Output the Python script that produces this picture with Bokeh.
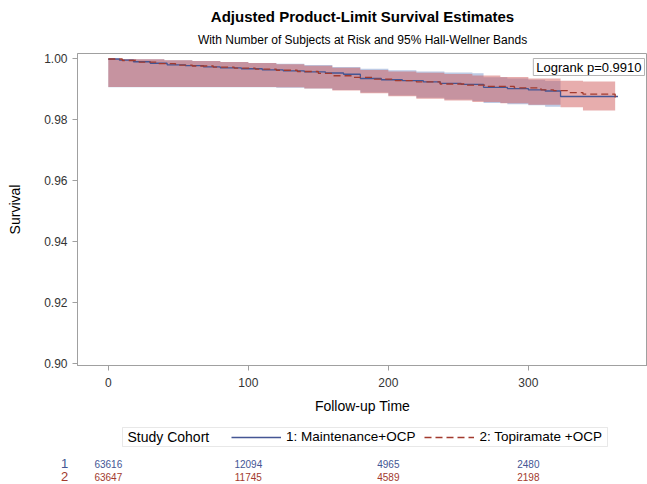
from bokeh.plotting import figure
from bokeh.models import Range1d, Title, Label, Legend, LegendItem, FixedTicker, PrintfTickFormatter, BoxAnnotation
from bokeh.core.properties import value
from bokeh.embed import file_html
from bokeh.resources import INLINE

# ---------------- data ----------------
# group 1: Maintenance+OCP (step survival curve)
t1 = [0, 8, 18, 30, 42, 55, 68, 80, 95, 110, 125, 140, 155, 168, 180, 195, 210, 225, 237, 252, 268, 285, 300, 312, 323, 364]
s1 = [1.0000, 0.9996, 0.9991, 0.9986, 0.9981, 0.9978, 0.9974, 0.9971, 0.9968, 0.9964, 0.9961, 0.9958, 0.9954,
      0.9950, 0.9936, 0.9932, 0.9929, 0.9925, 0.9920, 0.9917, 0.9907, 0.9903, 0.9899, 0.9895, 0.9877, 0.9877]
# group 2: Topiramate +OCP
t2 = [0, 10, 22, 35, 48, 60, 75, 90, 105, 120, 135, 150, 160, 175, 190, 205, 220, 237, 255, 270, 290, 309, 318, 328, 339, 362]
s2 = [1.0000, 0.9995, 0.9990, 0.9985, 0.9980, 0.9977, 0.9973, 0.9970, 0.9967, 0.9963, 0.9959, 0.9953, 0.9945,
      0.9940, 0.9934, 0.9929, 0.9925, 0.9918, 0.9914, 0.9910, 0.9905, 0.9899, 0.9896, 0.9890, 0.9885, 0.9874]

# 95% Hall-Wellner bands
bt1 = [0, 20, 40, 60, 80, 100, 120, 140, 160, 180, 200, 220, 240, 260, 268, 285, 300, 312, 323]
blo1 = [0.9907, 0.9907, 0.9907, 0.9907, 0.9907, 0.9907, 0.9906, 0.9903, 0.9898, 0.9890, 0.9880, 0.9873, 0.9867,
        0.9862, 0.9856, 0.9852, 0.9848, 0.9843, 0.9843]
bhi1 = [1.0000, 0.9999, 0.9996, 0.9993, 0.9990, 0.9987, 0.9984, 0.9980, 0.9974, 0.9968, 0.9963, 0.9959, 0.9956,
        0.9953, 0.9940, 0.9936, 0.9932, 0.9928, 0.9928]
bt2 = [0, 20, 40, 60, 80, 100, 120, 140, 160, 180, 200, 220, 240, 260, 280, 300, 323, 339, 362]
blo2 = [0.9908, 0.9908, 0.9908, 0.9908, 0.9908, 0.9908, 0.9907, 0.9903, 0.9897, 0.9888, 0.9878, 0.9870, 0.9864,
        0.9859, 0.9855, 0.9850, 0.9842, 0.9831, 0.9831]
bhi2 = [1.0000, 0.9999, 0.9996, 0.9993, 0.9990, 0.9987, 0.9983, 0.9978, 0.9971, 0.9964, 0.9959, 0.9955, 0.9951,
        0.9946, 0.9941, 0.9936, 0.9929, 0.9926, 0.9926]

# number at risk
risk_times = [0, 100, 200, 300]
risk1 = ["63616", "12094", "4965", "2480"]
risk2 = ["63647", "11745", "4589", "2198"]

x_ticks = [0, 100, 200, 300]
y_ticks = [0.90, 0.92, 0.94, 0.96, 0.98, 1.00]

group_labels = ["1: Maintenance+OCP", "2: Topiramate +OCP"]
row_labels = ["1", "2"]
legend_title = "Study Cohort"
title_text = "Adjusted Product-Limit Survival Estimates"
subtitle_text = "With Number of Subjects at Risk and 95% Hall-Wellner Bands"
logrank_text = "Logrank p=0.9910"

# ---------------- styles / layout ----------------
BLUE = "#445694"
RED = "#A23A2E"
BLUE_FILL = "#7C95CA"
RED_FILL = "#D05B5B"
GRAY = "#A0A0A0"
BOXGRAY = "#B4B4B4"
FONT = "Liberation Sans"

W = 647
FL, FR = 77, 0
XMIN, XMAX = -22, 385.1
YMIN, YMAX = 0.8995, 1.0018
H1 = 418
H2 = 66

p = figure(width=W, height=H1, output_backend="svg", toolbar_location=None,
           x_range=Range1d(XMIN, XMAX), y_range=Range1d(YMIN, YMAX),
           min_border_left=FL, min_border_right=FR, min_border_top=53, min_border_bottom=53,
           title=title_text)
p.title.align = "center"
p.title.text_font = FONT
p.title.text_font_size = "15px"
p.title.text_font_style = "bold"
p.title.text_color = "#000000"
p.title.standoff = 0
sub = Title(text=subtitle_text, align="center", text_font=FONT, text_font_size="12px",
            text_font_style="normal", text_color="#000000", standoff=13)
p.add_layout(sub, "above")

p.xgrid.visible = False
p.ygrid.visible = False
p.outline_line_color = GRAY
p.background_fill_color = "white"
p.border_fill_color = "white"

p.xaxis.ticker = FixedTicker(ticks=x_ticks)
p.yaxis.ticker = FixedTicker(ticks=y_ticks)
p.yaxis.formatter = PrintfTickFormatter(format="%.2f")
for ax in (p.xaxis, p.yaxis):
    ax.axis_line_color = GRAY
    ax.major_tick_line_color = GRAY
    ax.minor_tick_line_color = None
    ax.major_tick_out = 5
    ax.major_tick_in = 0
    ax.major_label_text_font = FONT
    ax.major_label_text_font_size = "12px"
    ax.major_label_text_color = "#333333"
    ax.axis_label_text_font = FONT
    ax.axis_label_text_font_size = "14px"
    ax.axis_label_text_font_style = "normal"
    ax.axis_label_text_color = "#000000"
p.xaxis.axis_label = "Follow-up Time"
p.yaxis.axis_label = "Survival"
p.xaxis.major_label_standoff = 7
p.xaxis.axis_label_standoff = 8
p.yaxis.major_label_standoff = 5
p.yaxis.axis_label_standoff = 18

# bands
p.varea_step(x=bt1, y1=blo1, y2=bhi1, step_mode="after", fill_color=BLUE_FILL, fill_alpha=0.5)
p.varea_step(x=bt2, y1=blo2, y2=bhi2, step_mode="after", fill_color=RED_FILL, fill_alpha=0.5)
# survival curves
p.step(x=t1, y=s1, mode="after", line_color=BLUE, line_width=1.3)
p.step(x=t2, y=s2, mode="after", line_color=RED, line_width=1.3, line_dash="7 4")

ppu = (W - FL - FR) / (XMAX - XMIN)      # pixels per time unit
ppy = (H1 - 106) / (YMAX - YMIN)         # pixels per survival unit
lab = Label(x=XMAX - 3 / ppu, y=YMAX - 5 / ppy, text=logrank_text, text_align="right", text_baseline="top",
            text_font=FONT, text_font_size="13px", text_color="#000000",
            background_fill_color="white", border_line_color=BOXGRAY, padding=(3, 1))
p.add_layout(lab)

# ---------------- legend + at-risk table (same time scale, full-width frame) ----------------
x2_start = XMIN - FL / ppu
x2_end = XMAX + FR / ppu


def xd(px):
    """page pixel column -> time value on the same x scale"""
    return x2_start + px / ppu


q = figure(width=W, height=H2, output_backend="svg", toolbar_location=None,
           x_range=Range1d(x2_start, x2_end), y_range=Range1d(H2, 0),
           min_border_left=0, min_border_right=0, min_border_top=0, min_border_bottom=0)
q.xaxis.visible = False
q.yaxis.visible = False
q.xgrid.visible = False
q.ygrid.visible = False
q.outline_line_color = None

# legend frame and title
q.add_layout(BoxAnnotation(left=xd(122), right=xd(607), top=9, bottom=28, level="underlay",
                           fill_color="white", fill_alpha=1.0, line_color=BOXGRAY, line_width=1))
q.text(x=[xd(127)], y=[18.5], text=[legend_title], text_align="left", text_baseline="middle",
       text_font=value(FONT), text_font_size="14px", text_color="#000000")

nan = float("nan")
r1 = q.line(x=[0, 1], y=[nan, nan], line_color=BLUE, line_width=1.3)
r2 = q.line(x=[0, 1], y=[nan, nan], line_color=RED, line_width=1.3, line_dash="7 4")
leg = Legend(items=[LegendItem(label=group_labels[0], renderers=[r1]),
                    LegendItem(label=group_labels[1], renderers=[r2])],
             orientation="horizontal", location=(231, H2 - 28.5),
             label_text_font=FONT, label_text_font_size="13.5px", label_text_color="#000000",
             glyph_width=50, glyph_height=20, label_standoff=5, spacing=9, padding=0, margin=0,
             border_line_color=None, background_fill_alpha=0.0)
q.add_layout(leg)

ROW1, ROW2 = 45, 58
q.text(x=risk_times, y=[ROW1] * len(risk_times), text=risk1, text_align="center", text_baseline="middle",
       text_font=value(FONT), text_font_size="10px", text_color=BLUE)
q.text(x=risk_times, y=[ROW2] * len(risk_times), text=risk2, text_align="center", text_baseline="middle",
       text_font=value(FONT), text_font_size="10px", text_color=RED)
q.text(x=[xd(64), xd(64)], y=[ROW1, ROW2], text=row_labels, text_align="center", text_baseline="middle",
       text_font=value(FONT), text_font_size="13px", text_color=[BLUE, RED])

open("out.html", "w").write(file_html([p, q], INLINE))
